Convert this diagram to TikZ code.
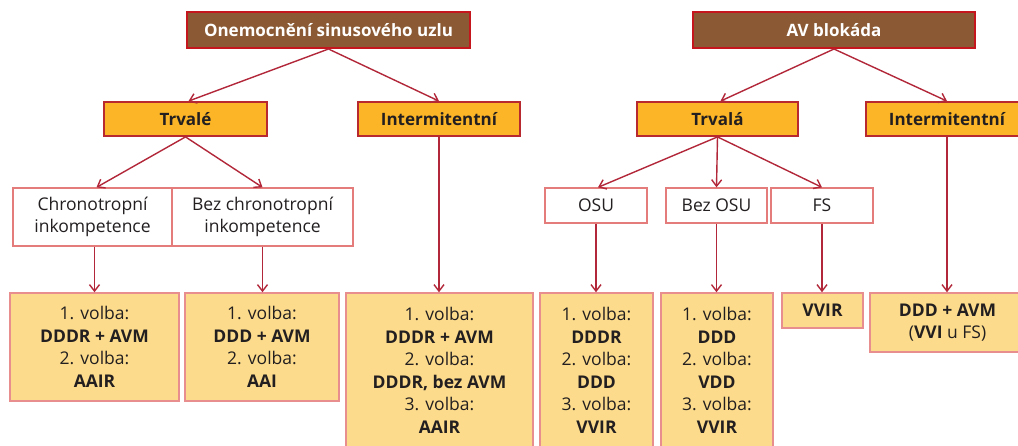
\documentclass[tikz,border=0pt]{standalone}
\usepackage{fontspec}
\setmainfont{Open Sans}
\usetikzlibrary{arrows.meta}
\definecolor{brownfill}{HTML}{8B5A34}
\definecolor{brownedge}{HTML}{C4161C}
\definecolor{orangefill}{HTML}{FBB526}
\definecolor{orangeedge}{HTML}{B8292F}
\definecolor{lightfill}{HTML}{FCDC8C}
\definecolor{lightedge}{HTML}{E88E8E}
\definecolor{whiteedge}{HTML}{E57C7C}
\definecolor{arrowcol}{HTML}{B2283A}
\definecolor{txt}{HTML}{231F20}
\begin{document}
\begin{tikzpicture}[x=1pt,y=-1pt,
  base/.style={rectangle, inner sep=0pt, align=center, text=txt,
    font=\fontsize{17.5}{22.5}\selectfont},
  brownbox/.style={base, fill=brownfill, draw=brownedge, line width=2pt, text=white,
    font=\fontsize{17}{22.5}\selectfont\bfseries, minimum height=36pt},
  orangebox/.style={base, fill=orangefill, draw=orangeedge, line width=1.8pt,
    font=\fontsize{17}{22.5}\selectfont\bfseries, minimum height=34pt},
  whitebox/.style={base, fill=white, draw=whiteedge, line width=1.3pt},
  resbox/.style={base, fill=lightfill, draw=lightedge, line width=1.5pt},
  conn/.style={draw=arrowcol, line width=1.4pt, -{Straight Barb[length=6.5pt,width=10pt,line width=1.4pt]}}
]
\clip (0,0) rectangle (1018,445);
\fill[white] (0,0) rectangle (1018,445);

% top
\node[brownbox, minimum width=283pt] (son) at (328.5,30) {Onemocnění sinusového uzlu};
\node[brownbox, minimum width=282pt] (avb) at (834,30) {AV blokáda};

% level 2
\node[orangebox, minimum width=163pt] (trv1) at (185.5,119) {Trvalé};
\node[orangebox, minimum width=162pt] (int1) at (439,119) {Intermitentní};
\node[orangebox, minimum width=161pt] (trv2) at (717.5,119) {Trvalá};
\node[orangebox, minimum width=162pt] (int2) at (947,119) {Intermitentní};

% level 3
\node[whitebox, minimum width=159pt, minimum height=58pt] (chr) at (92.5,217) {Chronotropní\\inkompetence};
\node[whitebox, minimum width=181pt, minimum height=58pt] (bez) at (262.5,217) {Bez chronotropní\\inkompetence};
\node[whitebox, minimum width=102pt, minimum height=35pt] (osu) at (596,205.5) {OSU};
\node[whitebox, minimum width=101pt, minimum height=35pt] (bosu) at (716.5,205.5) {Bez OSU};
\node[whitebox, minimum width=102pt, minimum height=35pt] (fs) at (822,205.5) {FS};

% level 4
\node[resbox, minimum width=169pt, minimum height=108pt] (r1) at (94.5,347)
  {1. volba:\\\textbf{DDDR + AVM}\\2. volba:\\\textbf{AAIR}};
\node[resbox, minimum width=154pt, minimum height=108pt] (r2) at (262,347)
  {1. volba:\\\textbf{DDD + AVM}\\2. volba:\\\textbf{AAI}};
\node[resbox, minimum width=187pt, minimum height=155pt] (r3) at (439.5,370.5)
  {1. volba:\\\textbf{DDDR + AVM}\\2. volba:\\\textbf{DDDR, bez AVM}\\3. volba:\\\textbf{AAIR}};
\node[resbox, minimum width=113pt, minimum height=155pt] (r4) at (596.5,370.5)
  {1. volba:\\\textbf{DDDR}\\2. volba:\\\textbf{DDD}\\3. volba:\\\textbf{VVIR}};
\node[resbox, minimum width=112pt, minimum height=155pt] (r5) at (717,370.5)
  {1. volba:\\\textbf{DDD}\\2. volba:\\\textbf{VDD}\\3. volba:\\\textbf{VVIR}};
\node[resbox, minimum width=81pt, minimum height=35pt] (r6) at (822.5,310.5)
  {\textbf{VVIR}};
\node[resbox, minimum width=155pt, minimum height=59pt] (r7) at (947.5,322.5)
  {\textbf{DDD + AVM}\\(\textbf{VVI} u FS)};

% connectors
\draw[conn] (son.south) -- ([xshift=3pt]trv1.north);
\draw[conn] (son.south) -- (int1.north);
\draw[conn] (avb.south) -- ([xshift=3pt]trv2.north);
\draw[conn] (avb.south) -- (int2.north);
\draw[conn] (trv1.south) -- ([xshift=4pt]chr.north);
\draw[conn] (trv1.south) -- (bez.north);
\draw[conn] (trv2.south) -- ([xshift=2pt]osu.north);
\draw[conn] (trv2.south) -- (bosu.north);
\draw[conn] (trv2.south) -- (fs.north);
\draw[conn] ([xshift=2pt]chr.south) -- ([xshift=2pt]chr.south |- r1.north);
\draw[conn] (bez.south) -- (bez.south |- r2.north);
\draw[conn] (int1.south) -- (int1.south |- r3.north);
\draw[conn] (osu.south) -- (osu.south |- r4.north);
\draw[conn] (bosu.south) -- (bosu.south |- r5.north);
\draw[conn] (fs.south) -- (fs.south |- r6.north);
\draw[conn] (int2.south) -- (int2.south |- r7.north);
\end{tikzpicture}
\end{document}
